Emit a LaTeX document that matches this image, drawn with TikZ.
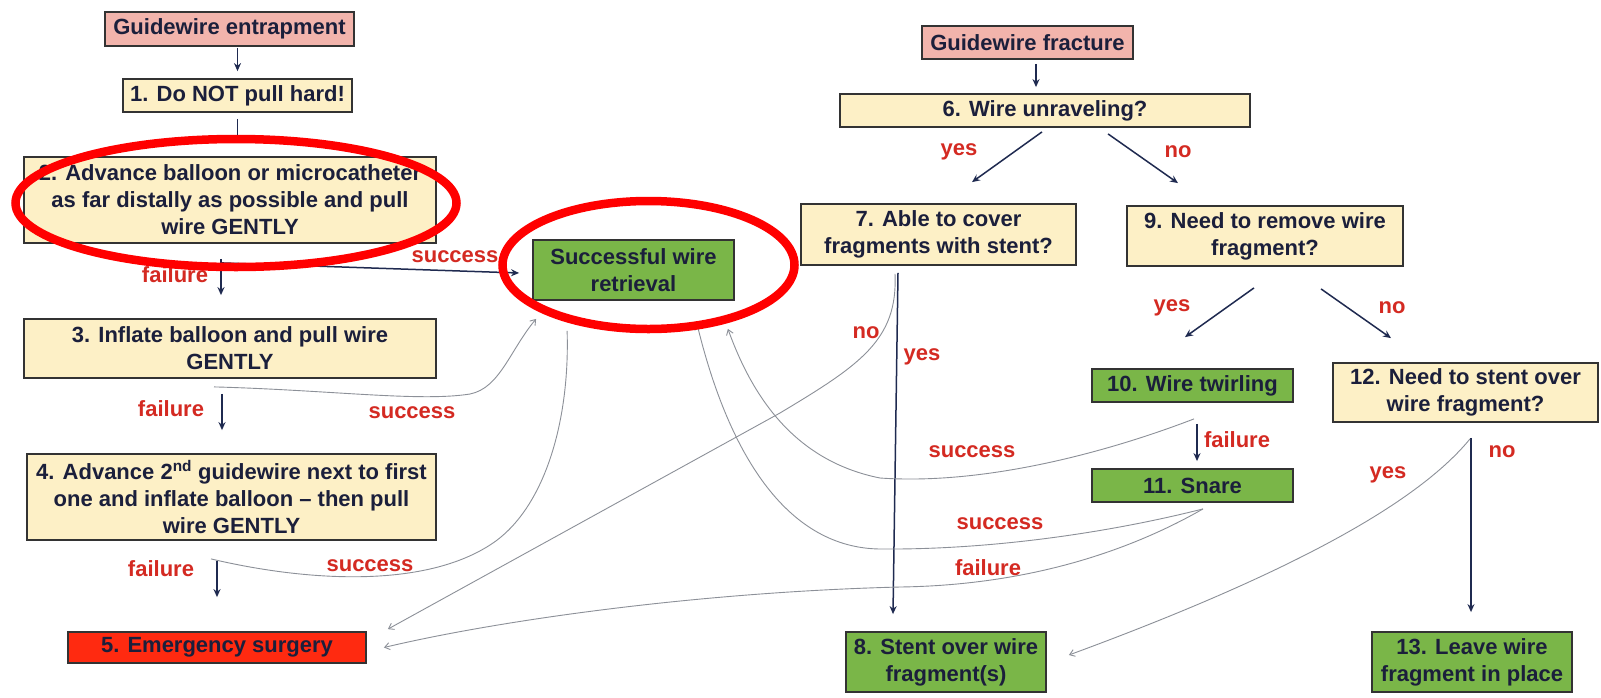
\documentclass[tikz,border=0pt]{standalone}
\usepackage{fontspec}
\setmainfont{Liberation Sans}
\usetikzlibrary{shapes.geometric,arrows.meta,calc}
\definecolor{beige}{HTML}{FDF0C6}
\definecolor{pinkf}{HTML}{F2B4AC}
\definecolor{greenf}{HTML}{7AB648}
\definecolor{redf}{HTML}{FF2A10}
\definecolor{txt}{HTML}{1B1F3B}
\definecolor{lred}{HTML}{D42A22}
\definecolor{navy}{HTML}{1F2A50}
\definecolor{gry}{HTML}{8C9098}
\definecolor{bdr}{HTML}{333333}
\definecolor{ringred}{HTML}{FF0000}
\newcommand{\bxfont}{\fontsize{22}{27}\selectfont\bfseries}
\begin{document}
\begin{tikzpicture}[x=1pt,y=-1pt,
  nbox/.style={draw=bdr, line width=1.8pt, inner sep=0pt, align=center, font=\bxfont, text=txt},
  beigebox/.style={nbox, fill=beige},
  pinkbox/.style={nbox, fill=pinkf},
  greenbox/.style={nbox, fill=greenf},
  redbox/.style={nbox, fill=redf},
  arr/.style={draw=navy, line width=1.5pt, -{Stealth[length=8pt,width=7pt]}},
  navyln/.style={draw=navy, line width=1.5pt},
  thinarr/.style={draw=gry, line width=0.9pt, -{Straight Barb[length=5pt,width=7pt]}},
  thinln/.style={draw=gry, line width=0.9pt},
  lbl/.style={text=lred, font=\bxfont, inner sep=0pt},
  ring/.style={draw=ringred, line width=8.5pt, ellipse, inner sep=0pt}
]
\fill[white] (0,0) rectangle (1601,697);
\useasboundingbox (0,0) rectangle (1601,697);

% left column
\node[pinkbox, minimum width=249pt, minimum height=34pt] (ent) at (229.5,29) {Guidewire entrapment};
\node[beigebox, minimum width=229pt, minimum height=33pt] (b1) at (237.5,95.5) {1. Do NOT pull hard!};
\node[beigebox, minimum width=412pt, minimum height=86pt] (b2) at (230,200) {2. Advance balloon or microcatheter\\as far distally as possible and pull\\wire GENTLY};
\node[greenbox, minimum width=201pt, minimum height=60pt] (suc) at (633.5,270) {Successful wire\\retrieval};
\node[beigebox, minimum width=412pt, minimum height=59pt] (b3) at (230,348.5) {3. Inflate balloon and pull wire\\GENTLY};
\node[beigebox, minimum width=409pt, minimum height=86pt] (b4) at (231.5,497) {4. Advance 2\textsuperscript{nd} guidewire next to first\\one and inflate balloon -- then pull\\wire GENTLY};
\node[redbox, minimum width=298pt, minimum height=31pt] (em) at (217,647.5) {5. Emergency surgery};

% right part
\node[pinkbox, minimum width=211pt, minimum height=33pt] (fr) at (1027.5,42.5) {Guidewire fracture};
\node[beigebox, minimum width=410pt, minimum height=33pt] (b6) at (1045,110.5) {6. Wire unraveling?};
\node[beigebox, minimum width=275pt, minimum height=61pt] (b7) at (938.5,234.5) {7. Able to cover\\fragments with stent?};
\node[beigebox, minimum width=276pt, minimum height=60pt] (b9) at (1265,236) {9. Need to remove wire\\fragment?};
\node[greenbox, minimum width=201pt, minimum height=33pt] (b10) at (1192.5,385.5) {10. Wire twirling};
\node[greenbox, minimum width=201pt, minimum height=33pt] (b11) at (1192.5,485.5) {11. Snare};
\node[beigebox, minimum width=265pt, minimum height=59pt] (b12) at (1465.5,392.5) {12. Need to stent over\\wire fragment?};
\node[greenbox, minimum width=200pt, minimum height=60pt] (b8) at (946,662) {8. Stent over wire\\fragment(s)};
\node[greenbox, minimum width=200pt, minimum height=60pt] (b13) at (1472,662) {13. Leave wire\\fragment in place};

% left connectors
\draw[arr, shorten <=1pt, shorten >=7pt] (ent.south -| b1.north) -- (b1.north);
\draw[arr] ($(b2.south)+(-9,15)$) -- ($(b3.north)+(-9,-23)$);
\draw[arr] ($(b2.south)+(-9,19)$) -- ($(suc.west)+(-13,3)$);
\draw[arr] ($(b3.south)+(-8,15)$) -- ($(b4.north)+(-9.5,-23)$);
\draw[thinarr] ($(b3.south)+(-16,8)$) .. controls (330,390) and (420,402) .. (470,394) .. controls (500,388) and (510,350) .. ($(suc.south west)+(4,18)$);
\draw[arr] ($(b4.south -| em.north)+(0,20)$) -- ($(em.north)+(0,-34)$);
\draw[thinln] ($(b4.south)+(-20.5,18)$) .. controls (300,580) and (420,590) .. (490,545) .. controls (545,510) and (570,420) .. ($(suc.south west)+(35,30)$);

% right connectors
\draw[arr] ($(fr.south)+(8.5,4)$) -- ($(b6.north)+(-9,-6)$);
\draw[arr] ($(b6.south)+(-3,4)$) -- ($(b7.north)+(33.5,-21)$);
\draw[arr] ($(b6.south)+(63,6)$) -- ($(b9.north)+(-87,-22)$);
\draw[arr] ($(b7.south)+(-40.5,7)$) -- ($(b8.north)+(-53,-17)$);
\draw[thinarr] ($(b7.south)+(-43.5,8)$) .. controls (898,340) and (860,365) .. (780,413) -- ($(em.north east)+(21,-2)$);
\draw[arr] ($(b9.south)+(-11,21)$) -- ($(b10.north)+(-7.5,-31)$);
\draw[arr] ($(b9.south)+(56,22)$) -- ($(b12.north)+(-74.5,-24)$);
\draw[arr] ($(b10.south)+(4.5,21)$) -- ($(b11.north)+(4.5,-7)$);
\draw[thinarr] ($(b10.south)+(1.5,16)$) .. controls (1100,455) and (980,485) .. (880,478) .. controls (790,460) and (750,390) .. ($(suc.south east)+(-7,28)$);
\draw[thinarr] ($(b11.south)+(10.5,6)$) .. controls (1120,530) and (1000,550) .. (880,549) .. controls (790,548) and (730,460) .. ($(suc.south)+(63.5,23)$);
\draw[thinarr] ($(b11.south)+(10.5,6)$) .. controls (1140,545) and (1040,585) .. (900,587) .. controls (700,592) and (500,620) .. ($(em.east)+(17,0)$);
\draw[arr] ($(b12.south)+(5.5,15)$) -- ($(b13.north)+(-1,-19)$);
\draw[thinarr] ($(b12.south)+(4.5,16)$) .. controls (1420,500) and (1300,570) .. ($(b8.east)+(22,-7)$);

% labels
\node[lbl] (l1) at (175,275) {failure};
\node[lbl] (l2) at (455,257) {success};
\node[lbl] (l3) at (171,409) {failure};
\node[lbl] (l4) at (412,413) {success};
\node[lbl] (l5) at (161,569) {failure};
\node[lbl] (l6) at (370,566) {success};
\node[lbl] (l7) at (866,333) {no};
\node[lbl] (l8) at (922,357) {yes};
\node[lbl] (l9) at (959,152) {yes};
\node[lbl] (l10) at (1178,152) {no};
\node[lbl] (l11) at (1172,308) {yes};
\node[lbl] (l12) at (1392,308) {no};
\node[lbl] (l13) at (1237,440) {failure};
\node[lbl] (l14) at (972,452) {success};
\node[lbl] (l15) at (1000,524) {success};
\node[lbl] (l16) at (988,568) {failure};
\node[lbl] (l17) at (1502,452) {no};
\node[lbl] (l18) at (1388,475) {yes};

% red highlight rings
\node[ring, minimum width=441pt, minimum height=128pt] (ell1) at (236,203) {};
\node[ring, minimum width=292pt, minimum height=128pt] (ell2) at (648.5,265) {};
\draw[navyln, shorten <=6pt] (b1.south) -- (b1.south |- ell1.north);
\end{tikzpicture}
\end{document}
